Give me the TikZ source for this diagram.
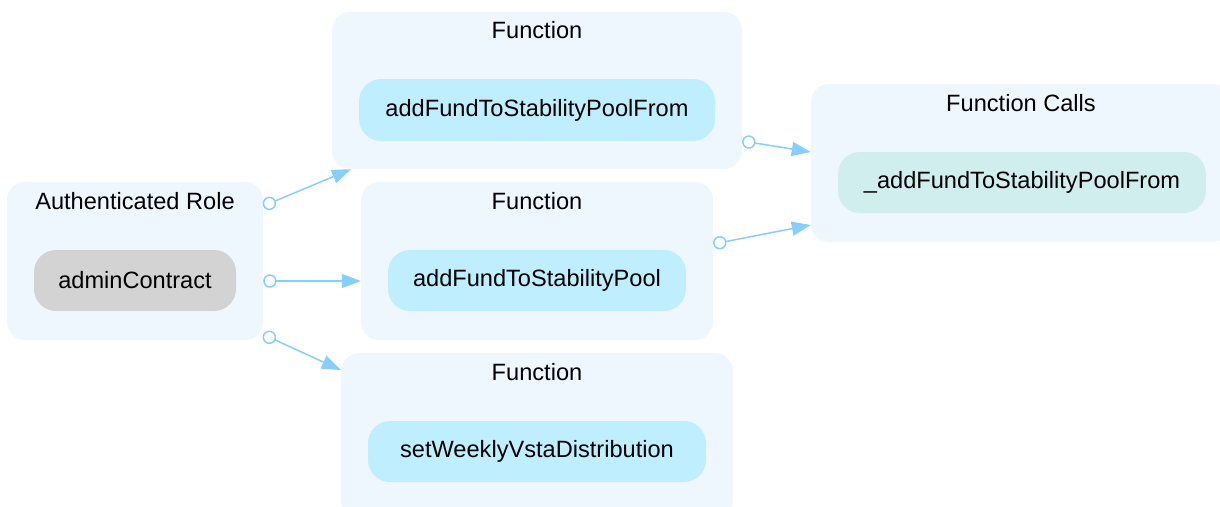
\documentclass[tikz,border=0pt]{standalone}
\usepackage{fontspec}
\setmainfont{Liberation Sans}
\usetikzlibrary{arrows.meta}
\definecolor{clusterfill}{HTML}{EFF7FE}
\definecolor{fnfill}{HTML}{BFEFFF}
\definecolor{callfill}{HTML}{D1EEEE}
\definecolor{rolefill}{HTML}{D3D3D3}
\definecolor{edgecol}{HTML}{87CEFA}
\tikzset{
  cluster/.style={draw=none, fill=clusterfill, rounded corners=18pt, inner sep=0pt},
  fnbox/.style={draw=none, rounded corners=22pt, inner sep=0pt, font=\fontsize{23.6}{28}\selectfont, text=black},
  title/.style={inner sep=0pt, font=\fontsize{23.6}{28}\selectfont, text=black},
  conn/.style={draw=edgecol, line width=1.5pt,
    {Circle[fill=white, length=13.5pt, width=13.5pt]}-{Triangle[length=19pt, width=14pt]}}
}
\begin{document}
\begin{tikzpicture}[x=1pt, y=-1pt]
\useasboundingbox (0,0) rectangle (1220,506);
\clip (0,0) rectangle (1220,506);
% clusters
\node[cluster, minimum width=256pt, minimum height=158pt] (ar) at (135,261) {};
\node[cluster, minimum width=410pt, minimum height=157pt] (f1) at (537,90.5) {};
\node[cluster, minimum width=352pt, minimum height=158pt] (f2) at (537,261) {};
\node[cluster, minimum width=392pt, minimum height=166pt] (f3) at (537,436) {};
\node[cluster, minimum width=420pt, minimum height=158pt] (fc) at (1021,163) {};
% titles
\node[title] (tar) at (135,201) {Authenticated Role};
\node[title] (tf1) at (537,30) {Function};
\node[title] (tf2) at (537,201) {Function};
\node[title] (tf3) at (537,372) {Function};
\node[title] (tfc) at (1021,103) {Function Calls};
% nodes
\node[fnbox, fill=rolefill, minimum width=202pt, minimum height=61pt] (admin) at (135,280.5) {adminContract};
\node[fnbox, fill=fnfill, minimum width=356pt, minimum height=62pt] (n1) at (537,110) {addFundToStabilityPoolFrom};
\node[fnbox, fill=fnfill, minimum width=298pt, minimum height=61pt] (n2) at (537,280.5) {addFundToStabilityPool};
\node[fnbox, fill=fnfill, minimum width=338pt, minimum height=61pt] (n3) at (537,451.5) {setWeeklyVstaDistribution};
\node[fnbox, fill=callfill, minimum width=368pt, minimum height=61pt] (n4) at (1022,182.5) {\_addFundToStabilityPoolFrom};
% connectors
\draw[conn] (ar.east |- 0,206) -- (f1.south -| 351,0);
\draw[conn] (ar.east |- 0,281) -- (f2.west |- 0,281);
\draw[conn] (ar.east |- 0,334.5) -- (f3.west |- 0,370);
\draw[conn] (f1.east |- 0,141) -- (fc.west |- 0,152);
\draw[conn] (f2.east |- 0,244) -- (fc.west |- 0,225);
\end{tikzpicture}
\end{document}
